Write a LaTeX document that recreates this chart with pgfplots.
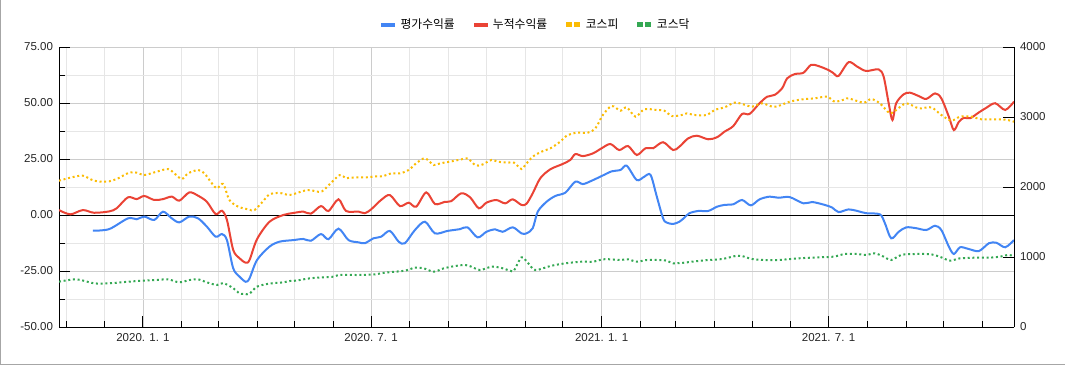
\documentclass[border=0pt]{standalone}
\usepackage{pgfplots}
\pgfplotsset{compat=1.18}
\usepackage{fontspec}
\setmainfont{Liberation Sans}
\newfontfamily\kr{Noto Sans CJK KR}
\definecolor{cBlue}{HTML}{4285F4}
\definecolor{cRed}{HTML}{EA4335}
\definecolor{cYellow}{HTML}{FBBC04}
\definecolor{cGreen}{HTML}{34A853}
\definecolor{gMaj}{HTML}{CCCCCC}
\definecolor{gMin}{HTML}{E6E6E6}
\begin{document}
\begin{tikzpicture}
\useasboundingbox (0pt,0pt) rectangle (1065pt,365pt);
\draw[black!35, line width=1pt] (0.5pt,365pt) -- (0.5pt,0.5pt) -- (1065pt,0.5pt);
% x: days since 2020-01-01
\begin{axis}[
  at={(59pt,38pt)}, anchor=south west, width=955pt, height=280pt, scale only axis,
  xmin=-67, xmax=695, ymin=-50, ymax=75,
  axis x line*=bottom, axis y line*=left,
  axis line style={-, black, line width=1pt},
  tick style={black, line width=1pt},
  tick align=inside, major tick length=11pt, minor tick length=6pt,
  ytick={-50,-25,0,25,50,75}, minor ytick={-37.5,-12.5,12.5,37.5,62.5},
  xtick={0,182,366,547}, xticklabels={2020. 1. 1, 2020. 7. 1, 2021. 1. 1, 2021. 7. 1},
  minor xtick={-61,-31,31,60,91,121,152,213,244,274,305,335,397,425,456,486,517,578,609,639,670},
  grid=both, major grid style={color=gMaj, line width=0.9pt}, minor grid style={color=gMin, line width=0.9pt},
  /pgf/number format/assume math mode=true,
  yticklabel={\pgfmathprintnumber[fixed,fixed zerofill,precision=2]{\tick}},
  ticklabel style={font=\fontsize{11.5}{13}\selectfont, text=black!85},
  yticklabel style={xshift=-2.5pt},
  xticklabel style={yshift=-3pt},
]
\addplot[black, line width=0.9pt, forget plot] coordinates {(-67,0) (695,0)};
\addplot[cBlue, line width=2pt, smooth] coordinates {
(-40,-7.0)(-27,-6.3)(-12,-1.5)(-5,-1.9)(1,-0.7)(9,-2.2)(16,1.5)(23,-1.5)(29,-3.3)(37,-0.7)(44,-1.5)(51,-5.2)(58,-9.7)(63,-8.5)(67,-11.2)(72,-23.8)(77,-27.5)(82,-29.8)(85,-28.3)(91,-20.1)(101,-14.1)(109,-11.9)(120,-11.2)(128,-10.7)(134,-11.5)(142,-8.5)(148,-10.8)(156,-6.1)(164,-11.2)(172,-12.2)(177,-12.6)(184,-10.4)(190,-9.7)(197,-7.1)(204,-11.9)(209,-12.6)(217,-6.7)(225,-3.0)(233,-8.2)(243,-7.1)(253,-6.3)(259,-5.5)(267,-10.0)(274,-7.5)(281,-6.4)(287,-7.5)(295,-5.5)(302,-8.2)(306,-8.2)(311,-5.9)(315,1.5)(322,5.9)(329,8.5)(337,10.0)(345,14.9)(351,13.8)(358,15.3)(366,17.4)(374,19.5)(381,20.1)(386,22.0)(394,15.6)(400,17.1)(405,17.9)(410,8.2)(415,-1.5)(418,-3.4)(423,-4.0)(428,-3.0)(432,-1.2)(436,0.8)(443,1.8)(451,1.8)(458,3.7)(464,4.5)(471,4.8)(478,6.7)(485,4.3)(492,7.0)(500,8.2)(507,7.7)(516,8.0)(527,5.2)(534,5.8)(544,4.5)(550,3.3)(555,1.3)(563,2.5)(570,1.8)(577,0.8)(588,0.3)(592,-3.7)(597,-10.4)(603,-7.5)(609,-5.5)(617,-5.9)(625,-6.7)(632,-4.8)(637,-6.7)(643,-14.1)(647,-17.4)(652,-14.4)(659,-15.2)(667,-16.1)(675,-12.6)(681,-12.4)(688,-14.4)(695,-11.2)};
\addplot[cRed, line width=2pt, smooth] coordinates {
(-67,2.2)(-58,0.3)(-48,2.2)(-39,1.0)(-27,1.6)(-21,3.0)(-12,7.9)(-5,7.1)(1,8.5)(9,6.7)(16,7.1)(23,8.2)(29,6.4)(37,10.1)(44,8.6)(51,5.9)(58,0.4)(63,1.9)(67,-2.2)(72,-15.6)(77,-19.3)(82,-21.3)(85,-20.1)(91,-10.8)(101,-3.0)(112,0)(120,0.9)(128,1.5)(134,0.6)(142,4.0)(148,1.8)(156,7.0)(162,1.8)(172,1.5)(177,0.8)(182,2.5)(190,6.7)(197,8.9)(205,4.0)(212,5.5)(218,3.7)(226,10.1)(233,4.9)(241,5.9)(246,6.2)(254,9.7)(261,7.9)(268,3.0)(274,5.5)(282,6.7)(289,5.2)(295,7.0)(302,4.5)(306,5.0)(311,9.7)(317,16.4)(325,20.4)(335,22.8)(341,24.6)(345,27.2)(351,26.3)(359,27.5)(366,29.8)(373,31.7)(380,29.0)(387,30.8)(394,26.8)(401,29.8)(407,29.8)(415,32.5)(423,29.0)(428,30.5)(435,34.2)(442,35.4)(451,33.8)(458,34.7)(464,37.2)(471,39.7)(478,45.1)(484,45.1)(492,49.9)(498,52.8)(504,53.6)(510,56.6)(514,61.0)(520,62.9)(527,63.5)(533,67.0)(539,66.5)(547,64.7)(551,63.3)(555,62.1)(563,68.2)(570,66.2)(577,64.3)(587,65.0)(591,61.7)(595,49.9)(598,42.4)(601,49.9)(607,53.9)(612,54.6)(619,53.1)(625,51.8)(632,54.3)(637,52.1)(643,43.9)(647,37.9)(651,41.6)(655,43.4)(660,43.2)(667,45.8)(673,47.9)(680,49.9)(688,46.9)(695,50.6)};
\end{axis}
\begin{axis}[
  at={(59pt,38pt)}, anchor=south west, width=955pt, height=280pt, scale only axis,
  xmin=-67, xmax=695, ymin=0, ymax=4000,
  hide x axis, axis y line*=right,
  axis line style={-, black, line width=1pt},
  tick style={black, line width=1pt},
  tick align=inside, major tick length=11pt,
  ytick={0,1000,2000,3000,4000},
  scaled y ticks=false,
  /pgf/number format/assume math mode=true,
  /pgf/number format/1000 sep={},
  ticklabel style={font=\fontsize{11.5}{13}\selectfont, text=black!85},
  yticklabel style={xshift=2.5pt},
  legend columns=4,
  legend style={at={(0.5,1.08)}, anchor=center, draw=none, fill=none,
    font=\kr\fontsize{11.8}{13}\selectfont,
    /tikz/every odd column/.append style={column sep=4pt},
    /tikz/every even column/.append style={column sep=17pt}},
]
\addlegendimage{cBlue, legend image code/.code={\fill[solid] (0pt,-1.6pt) rectangle (12.7pt,1.6pt);}}
\addlegendentry{평가수익률}
\addlegendimage{cRed, legend image code/.code={\fill[solid] (0pt,-1.6pt) rectangle (12.7pt,1.6pt);}}
\addlegendentry{누적수익률}
\addplot[cYellow, line width=2pt, dash pattern=on 2pt off 2.7pt, smooth,
  legend image code/.code={\fill[solid,cYellow] (0pt,-1.8pt) rectangle (3.6pt,1.8pt); \fill[solid,cYellow] (8pt,-1.8pt) rectangle (11.6pt,1.8pt);}] coordinates {
(-67,2090)(-58,2133)(-48,2162)(-39,2090)(-29,2076)(-21,2114)(-11,2205)(-5,2205)(1,2171)(11,2219)(20,2257)(25,2195)(31,2114)(36,2195)(44,2243)(49,2195)(55,2052)(59,1981)(64,2043)(69,1814)(76,1719)(84,1681)(89,1671)(96,1800)(101,1895)(109,1915)(117,1886)(126,1933)(129,1948)(134,1957)(138,1935)(143,1940)(149,2040)(157,2171)(162,2124)(165,2133)(172,2138)(178,2138)(185,2150)(192,2157)(198,2195)(205,2195)(212,2243)(218,2338)(225,2410)(232,2314)(237,2338)(245,2362)(254,2395)(259,2410)(265,2314)(270,2314)(278,2386)(283,2362)(291,2348)(296,2348)(302,2257)(305,2314)(311,2433)(318,2505)(325,2552)(333,2648)(338,2733)(346,2776)(355,2776)(361,2838)(367,3029)(374,3157)(381,3090)(386,3138)(393,3005)(400,3110)(410,3100)(416,3090)(422,3014)(430,3029)(434,3052)(440,3029)(450,3029)(456,3100)(464,3138)(472,3205)(479,3181)(486,3148)(494,3195)(502,3148)(507,3157)(516,3219)(526,3252)(536,3267)(546,3290)(552,3219)(560,3252)(563,3267)(575,3205)(581,3257)(588,3195)(596,3052)(601,3100)(609,3195)(619,3124)(629,3138)(637,3029)(645,2948)(652,3005)(661,3005)(669,2967)(683,2967)(690,2957)(695,2933)};
\addlegendentry{코스피}
\addplot[cGreen, line width=2pt, dash pattern=on 2pt off 2.7pt, smooth,
  legend image code/.code={\fill[solid,cGreen] (0pt,-1.8pt) rectangle (3.6pt,1.8pt); \fill[solid,cGreen] (8pt,-1.8pt) rectangle (11.6pt,1.8pt);}] coordinates {
(-67,647)(-53,681)(-39,624)(-27,624)(-12,647)(0,662)(11,671)(20,681)(29,638)(37,671)(44,681)(51,638)(59,600)(64,628)(72,555)(77,481)(81,471)(85,476)(91,576)(101,620)(112,638)(117,657)(122,662)(133,695)(144,710)(152,719)(157,743)(173,743)(185,752)(193,776)(209,805)(217,848)(224,838)(232,790)(240,838)(249,871)(257,886)(262,862)(269,814)(278,862)(285,848)(293,805)(296,805)(302,995)(307,919)(313,814)(325,871)(337,910)(350,933)(359,933)(367,967)(373,967)(381,957)(387,967)(394,933)(402,957)(412,957)(418,948)(423,910)(432,919)(438,933)(451,957)(462,971)(474,1019)(478,1014)(486,971)(496,957)(507,957)(523,981)(539,995)(551,1005)(560,1043)(570,1043)(577,1029)(584,1052)(591,1005)(597,957)(605,1029)(616,1043)(629,1038)(637,995)(644,948)(652,981)(664,990)(675,990)(684,1005)(690,1029)(695,1014)};
\addlegendentry{코스닥}
\end{axis}
\end{tikzpicture}
\end{document}
